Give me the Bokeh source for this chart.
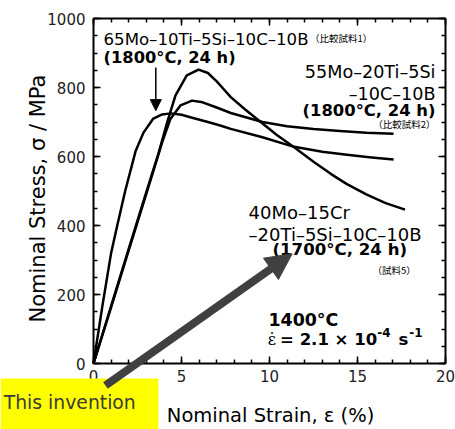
from bokeh.plotting import figure
from bokeh.models import (Range1d, LinearAxis, SingleIntervalTicker, Label, Arrow,
                          NormalHead, BoxAnnotation, CustomJSTickFormatter)
from bokeh.embed import file_html
from bokeh.resources import INLINE

# ---- data ----
# 65Mo-10Ti-5Si-10C-10B (1800C, 24 h) comparative sample 1
strain_a = [0, 0.5, 1.0, 1.35, 1.8, 2.4, 2.85, 3.4, 3.9, 4.4, 5.0, 5.5, 6.5, 7.2, 7.8, 9.6, 11.4, 13.0, 14.4, 15.8, 17.05]
stress_a = [0, 165, 320, 400, 500, 617, 670, 710, 722, 725, 721, 714, 700, 690, 680, 656, 628, 614, 605, 597, 591]
# 55Mo-20Ti-5Si-10C-10B (1800C, 24 h) comparative sample 2
strain_b = [0, 1, 2, 3, 3.5, 3.9, 4.37, 4.94, 5.6, 6.2, 7.0, 7.8, 9.6, 11.0, 12.5, 14.0, 15.5, 17.05]
stress_b = [0, 163, 328, 492, 574, 641, 709, 748, 762, 757, 742, 726, 700, 688, 680, 674, 669, 666]
# 40Mo-15Cr-20Ti-5Si-10C-10B (1700C, 24 h) sample 5 (this invention)
strain_c = [0, 1, 2, 3, 3.71, 4.19, 4.66, 5.3, 5.97, 6.5, 7.0, 7.4, 7.8, 8.6, 9.5, 10.4, 11.4, 12.5, 13.5, 14.4, 15.5, 16.6, 17.7]
stress_c = [0, 166, 332, 497, 612, 700, 777, 835, 852, 842, 818, 795, 772, 737, 700, 663, 627, 585, 549, 520, 490, 465, 446]

x_bounds = (0, 20)
y_bounds = (0, 1000)
x_ticks_interval = 5
y_ticks_interval = 200

FONT = "DejaVu Sans"
JP = "Noto Sans CJK JP"
DG = "#404040"
DY = 17  # baseline correction (data units, ~6 px)

# frame covers the whole canvas; the axes sit at fixed data locations
p = figure(width=455, height=429, x_range=Range1d(-5.284, 20.568), y_range=Range1d(-191.3, 1052.2),
           x_axis_type=None, y_axis_type=None, min_border=0,
           output_backend="svg", toolbar_location=None)
p.background_fill_color = "white"
p.border_fill_color = "white"
p.outline_line_color = None
p.grid.visible = False

blank = CustomJSTickFormatter(code="return ''")


def make_axis(interval, minor, loc, bounds, show_labels, standoff):
    ax = LinearAxis(ticker=SingleIntervalTicker(interval=interval, num_minor_ticks=minor),
                    fixed_location=loc, bounds=bounds)
    ax.axis_line_width = 2
    ax.axis_line_color = "black"
    ax.major_tick_in = 7
    ax.major_tick_out = 0
    ax.minor_tick_in = 4
    ax.minor_tick_out = 0
    ax.major_tick_line_width = 1.5
    ax.minor_tick_line_width = 1.5
    ax.major_label_text_font = FONT
    ax.major_label_text_color = "#222222"
    ax.major_label_text_font_size = "15px"
    ax.major_label_standoff = standoff
    if not show_labels:
        ax.formatter = blank
    return ax


p.add_layout(make_axis(x_ticks_interval, 5, y_bounds[0], x_bounds, True, 6), "below")
p.add_layout(make_axis(y_ticks_interval, 4, x_bounds[0], y_bounds, True, 8), "left")
p.add_layout(make_axis(x_ticks_interval, 5, y_bounds[1], x_bounds, False, 0), "above")
p.add_layout(make_axis(y_ticks_interval, 4, x_bounds[1], y_bounds, False, 0), "right")

for xs, ys in ((strain_a, stress_a), (strain_b, stress_b), (strain_c, stress_c)):
    p.line(xs, ys, line_width=2.5, color="black", line_join="round")


def lab(x, y, text, size, bold=False, align="left", baseline="alphabetic",
        font=FONT, color="black", angle=0):
    p.add_layout(Label(x=x, y=y, text=text, text_font=font, text_font_size=size,
                       text_font_style="bold" if bold else "normal",
                       text_align=align, text_baseline=baseline, text_color=color,
                       angle=angle, angle_units="deg"))


# comparative 1
lab(0.57, 922 + DY, "65Mo–10Ti–5Si–10C–10B", "16.6px")
lab(12.3, 944, "（比較試料1）", "9.5px", font=JP, baseline="middle")
lab(0.57, 870 + DY, "(1800°C, 24 h)", "16.3px", bold=True)
p.add_layout(Arrow(end=NormalHead(size=11, fill_color="black", line_color="black"),
                   x_start=3.54, y_start=858, x_end=3.54, y_end=733,
                   line_width=1.5, line_color="black"))

# comparative 2
lab(19.43, 829 + DY, "55Mo–20Ti–5Si", "17.6px", align="right")
lab(19.43, 765 + DY, "–10C–10B", "17.6px", align="right")
lab(19.43, 716 + DY, "(1800°C, 24 h)", "16.4px", bold=True, align="right")
lab(19.43, 694, "（比較試料2）", "9.5px", font=JP, align="right", baseline="middle")

# sample 5
lab(8.81, 420 + DY, "40Mo–15Cr", "18px")
lab(8.81, 357 + DY, "–20Ti–5Si–10C–10B", "18px")
lab(10.17, 313 + DY, "(1700°C, 24 h)", "16.6px", bold=True)
lab(15.85, 272, "（試料5）", "9.5px", font=JP, baseline="middle")

# test conditions
lab(9.94, 110 + DY, "1400°C", "17.4px", bold=True)
lab(9.9, 52 + DY, "ε̇", "16px", font="DejaVu Serif")
lab(10.6, 52 + DY, "= 2.1 × 10", "16.5px", bold=True)
lab(16.12, 72 + DY, "-4", "12px", bold=True)
lab(17.33, 52 + DY, "s", "16.5px", bold=True)
lab(17.94, 72 + DY, "-1", "12px", bold=True)

# axis titles
lab(-3.15, 478, "Nominal Stress, σ / MPa", "21px", align="center", angle=90)
lab(10.06, -168 + DY, "Nominal Strain, ε (%)", "19.5px", align="center")

# "This invention" call-out
p.add_layout(BoxAnnotation(left=-5.284, right=3.69, top=-43.5, bottom=-191.3,
                           fill_color="#ffff00", fill_alpha=1, line_color=None))
lab(-5.1, -130 + DY, "This invention", "18.8px", color="#3a3a3a")
p.add_layout(Arrow(end=NormalHead(size=26, fill_color=DG, line_color=DG),
                   x_start=0.68, y_start=-64, x_end=11.29, y_end=318,
                   line_width=8, line_color=DG))

open("out.html", "w").write(file_html(p, INLINE))
